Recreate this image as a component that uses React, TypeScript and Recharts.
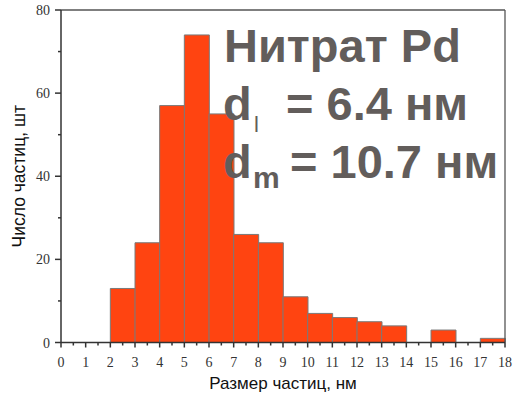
import React from "react";
import { ComposedChart, Bar, XAxis, YAxis, ReferenceLine } from "recharts";

// Histogram bins (lower edge of each 1-nm bin) and particle counts
const binStarts = [0, 1, 2, 3, 4, 5, 6, 7, 8, 9, 10, 11, 12, 13, 14, 15, 16, 17];
const counts = [0, 0, 13, 24, 57, 74, 55, 26, 24, 11, 7, 6, 5, 4, 0, 3, 0, 1];

const xMajorTicks = [0, 1, 2, 3, 4, 5, 6, 7, 8, 9, 10, 11, 12, 13, 14, 15, 16, 17, 18];
const yMajorTicks = [0, 20, 40, 60, 80];
const yMinorTicks = [10, 30, 50, 70];

const xLabel = "Размер частиц, нм";
const yLabel = "Число частиц, шт";
const titleLine = "Нитрат Pd";
const dlText = "= 6.4 нм";
const dmText = "= 10.7 нм";

const data = binStarts
  .map((s, i) => ({ x: s + 0.5, count: counts[i] }))
  .filter((d) => d.count > 0);

const xTicks: number[] = [];
xMajorTicks.forEach((t, i) => {
  xTicks.push(t);
  if (i < xMajorTicks.length - 1) xTicks.push(t + 0.5);
});
const yTicks = [...yMajorTicks, ...yMinorTicks].sort((a, b) => a - b);

const tickFont = "'Liberation Serif', 'Times New Roman', serif";
const axisColor = "#333";

const XTick = (props: any) => {
  const { x, y, payload } = props;
  const v = payload.value;
  const major = Number.isInteger(v);
  return (
    <g>
      <line x1={x} x2={x} y1={y} y2={y + (major ? 5 : 3)} stroke={axisColor} strokeWidth={1.5} />
      {major && (
        <text x={x} y={y + 24} textAnchor="middle" fontFamily={tickFont} fontSize={14} fill="#333">
          {v}
        </text>
      )}
    </g>
  );
};

const YTick = (props: any) => {
  const { x, y, payload } = props;
  const v = payload.value;
  const major = yMajorTicks.includes(v);
  return (
    <g>
      <line x1={x} x2={x - (major ? 6 : 3)} y1={y} y2={y} stroke={axisColor} strokeWidth={1.5} />
      {major && (
        <text x={x - 11} y={y + 5} textAnchor="end" fontFamily={tickFont} fontSize={14} fill="#333">
          {v}
        </text>
      )}
    </g>
  );
};

const labelFont = "'Liberation Sans', Arial, sans-serif";

export default function App() {
  return (
    <div style={{ position: "absolute", left: 0, top: 0, width: 513, height: 396, background: "#fff" }}>
      <ComposedChart
        width={513}
        height={396}
        data={data}
        margin={{ top: 10, right: 8, bottom: 0, left: 0 }}
        barCategoryGap={0}
        barGap={0}
      >
        <XAxis
          dataKey="x"
          type="number"
          domain={[0, 18]}
          ticks={xTicks}
          interval={0}
          height={53.5}
          tickSize={0}
          tickMargin={0}
          tickLine={false}
          axisLine={{ stroke: axisColor, strokeWidth: 1.5 }}
          tick={<XTick />}
          label={{
            value: xLabel,
            position: "insideBottom",
            offset: 7,
            fontFamily: labelFont,
            fontSize: 17,
            fill: "#111",
          }}
        />
        <YAxis
          type="number"
          domain={[0, 80]}
          ticks={yTicks}
          interval={0}
          width={61}
          tickSize={0}
          tickMargin={0}
          tickLine={false}
          axisLine={{ stroke: axisColor, strokeWidth: 1.5 }}
          tick={<YTick />}
          label={{
            content: (p: any) => {
              const vb = p.viewBox;
              const cy = vb.y + vb.height / 2;
              return (
                <text
                  x={19}
                  y={cy}
                  transform={`rotate(-90, 19, ${cy})`}
                  textAnchor="middle"
                  dominantBaseline="central"
                  fontFamily={labelFont}
                  fontSize={17.5}
                  fill="#111"
                >
                  {yLabel}
                </text>
              );
            },
          }}
        />
        <ReferenceLine y={80} stroke="#555" strokeWidth={1.3} ifOverflow="visible" />
        <ReferenceLine x={18} stroke="#555" strokeWidth={1.3} ifOverflow="visible" />
        <Bar dataKey="count" fill="#FF4411" stroke="#7a7a7a" strokeWidth={1} isAnimationActive={false} />
      </ComposedChart>
      <svg
        width={513}
        height={396}
        style={{ position: "absolute", left: 0, top: 0, pointerEvents: "none" }}
      >
        <g fontFamily={labelFont} fontWeight="bold" fill="#625d5b">
          <text x={224} y={62} fontSize={47}>{titleLine}</text>
          <text x={223} y={120} fontSize={47}>d</text>
          <text x={254} y={132} fontSize={22} fontWeight="normal">l</text>
          <text x={286} y={120} fontSize={47}>{dlText}</text>
          <text x={223} y={178} fontSize={47}>d</text>
          <text x={253} y={188} fontSize={30}>m</text>
          <text x={290} y={178} fontSize={47}>{dmText}</text>
        </g>
      </svg>
    </div>
  );
}
